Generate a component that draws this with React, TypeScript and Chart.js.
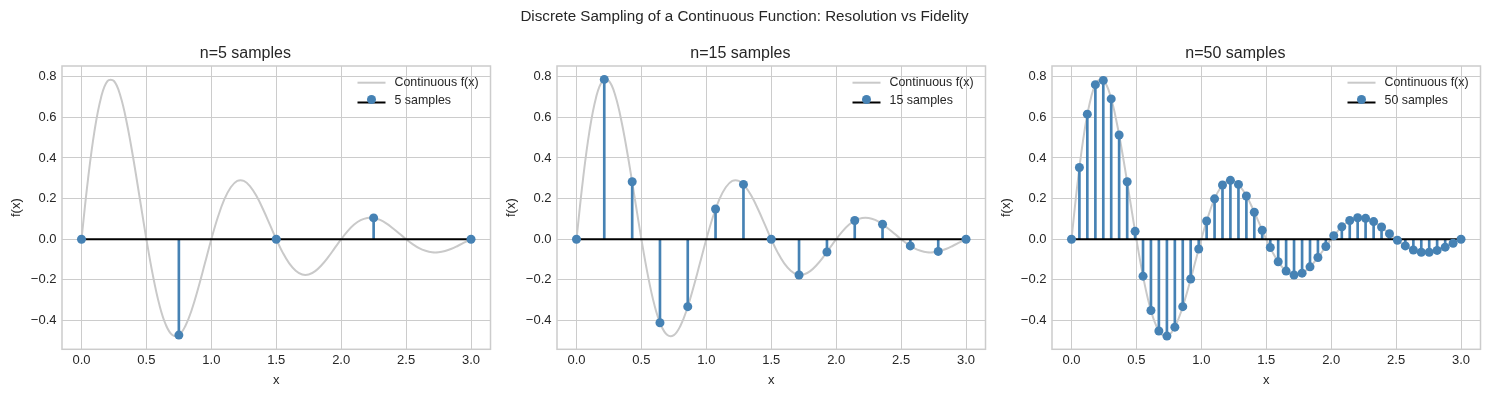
import React, { useEffect, useRef } from "react";
import { Chart, registerables } from "chart.js";
Chart.register(...registerables);

const FONT = '"Liberation Sans", Arial, Helvetica, sans-serif';
const TEXT = "#262626";
const STEEL = "#4682b4";
const CURVE = "#c9c9c9";
const GRID = "#cccccc";

const SUPTITLE = "Discrete Sampling of a Continuous Function: Resolution vs Fidelity";
const PANEL_TITLES = ["n=5 samples", "n=15 samples", "n=50 samples"];
const SAMPLE_LABELS = ["5 samples", "15 samples", "50 samples"];
const CURVE_LABEL = "Continuous f(x)";
const X_TICKS = [0, 0.5, 1, 1.5, 2, 2.5, 3];
const Y_TICKS = [-0.4, -0.2, 0, 0.2, 0.4, 0.6, 0.8];

const curveX = [
  0, 0.05, 0.1, 0.15, 0.2, 0.25, 0.3, 0.35, 0.4, 0.45,
  0.5, 0.55, 0.6, 0.65, 0.7, 0.75, 0.8, 0.85, 0.9, 0.95,
  1.0, 1.05, 1.1, 1.15, 1.2, 1.25, 1.3, 1.35, 1.4, 1.45,
  1.5, 1.55, 1.6, 1.65, 1.7, 1.75, 1.8, 1.85, 1.9, 1.95,
  2.0, 2.05, 2.1, 2.15, 2.2, 2.25, 2.3, 2.35, 2.4, 2.45,
  2.5, 2.55, 2.6, 2.65, 2.7, 2.75, 2.8, 2.85, 2.9, 2.95, 3.0,
];
const curveY = [
  0, 0.294, 0.532, 0.696, 0.779, 0.779, 0.705, 0.57, 0.394, 0.197,
  0, -0.178, -0.323, -0.422, -0.472, -0.472, -0.427, -0.346, -0.239, -0.12,
  0, 0.108, 0.196, 0.256, 0.287, 0.287, 0.259, 0.21, 0.145, 0.073,
  0, -0.066, -0.119, -0.155, -0.174, -0.174, -0.157, -0.127, -0.088, -0.044,
  0, 0.04, 0.072, 0.094, 0.105, 0.105, 0.095, 0.077, 0.053, 0.027,
  0, -0.024, -0.044, -0.057, -0.064, -0.064, -0.058, -0.047, -0.032, -0.016, 0,
];

const s5X = [0, 0.75, 1.5, 2.25, 3.0];
const s5Y = [0, -0.472, 0, 0.105, 0];

const s15X = [0, 0.214, 0.429, 0.643, 0.857, 1.071, 1.286, 1.5, 1.714, 1.929, 2.143, 2.357, 2.571, 2.786, 3.0];
const s15Y = [0, 0.787, 0.283, -0.411, -0.332, 0.149, 0.27, 0, -0.176, -0.063, 0.092, 0.074, -0.033, -0.06, 0];

const s50X = [
  0, 0.061, 0.122, 0.184, 0.245, 0.306, 0.367, 0.429, 0.49, 0.551,
  0.612, 0.673, 0.735, 0.796, 0.857, 0.918, 0.98, 1.041, 1.102, 1.163,
  1.224, 1.286, 1.347, 1.408, 1.469, 1.531, 1.592, 1.653, 1.714, 1.776,
  1.837, 1.898, 1.959, 2.02, 2.082, 2.143, 2.204, 2.265, 2.327, 2.388,
  2.449, 2.51, 2.571, 2.633, 2.694, 2.755, 2.816, 2.878, 2.939, 3.0,
];
const s50Y = [
  0, 0.353, 0.616, 0.761, 0.782, 0.691, 0.513, 0.283, 0.039, -0.182,
  -0.351, -0.452, -0.477, -0.433, -0.332, -0.196, -0.048, 0.09, 0.199, 0.267,
  0.29, 0.27, 0.213, 0.133, 0.044, -0.041, -0.111, -0.157, -0.176, -0.167,
  -0.136, -0.09, -0.036, 0.017, 0.061, 0.092, 0.106, 0.103, 0.087, 0.06,
  0.027, -0.005, -0.033, -0.053, -0.064, -0.064, -0.055, -0.039, -0.02, 0,
];

const SAMPLE_X = [s5X, s15X, s50X];
const SAMPLE_Y = [s5Y, s15Y, s50Y];

const X_MIN = -0.15, X_MAX = 3.15;
const Y_MIN = -0.542, Y_MAX = 0.853;

const CANVAS_W = 495;
const CANVAS_H = 397;
const PANEL_LEFTS = [0, 495.3, 989.7];

const framePlugin = {
  id: "frame",
  beforeDatasetsDraw(chart: any) {
    const { ctx, chartArea } = chart;
    ctx.save();
    ctx.strokeStyle = GRID;
    ctx.lineWidth = 1.5;
    ctx.strokeRect(chartArea.left, chartArea.top, chartArea.right - chartArea.left, chartArea.bottom - chartArea.top);
    ctx.restore();
  },
};

const legendPlugin = {
  id: "stemLegend",
  afterDatasetsDraw(chart: any, _args: any, opts: any) {
    const { ctx, chartArea } = chart;
    const x0 = chartArea.right - 133;
    const y1 = chartArea.top + 16.7;
    const y2 = chartArea.top + 35;
    ctx.save();
    ctx.lineWidth = 2;
    ctx.strokeStyle = CURVE;
    ctx.beginPath();
    ctx.moveTo(x0, y1);
    ctx.lineTo(x0 + 28, y1);
    ctx.stroke();
    ctx.strokeStyle = "#000";
    ctx.beginPath();
    ctx.moveTo(x0, y2 + 1.5);
    ctx.lineTo(x0 + 28, y2 + 1.5);
    ctx.stroke();
    ctx.fillStyle = STEEL;
    ctx.beginPath();
    ctx.arc(x0 + 14, y2 - 1.5, 4.5, 0, Math.PI * 2);
    ctx.fill();
    ctx.fillStyle = TEXT;
    ctx.font = `12.4px ${FONT}`;
    ctx.textBaseline = "middle";
    ctx.textAlign = "left";
    ctx.fillText(opts.curveLabel, x0 + 37, y1);
    ctx.fillText(opts.sampleLabel, x0 + 37, y2);
    ctx.restore();
  },
};

function fmtY(v: number) {
  const s = Math.abs(v).toFixed(1);
  return v < -1e-9 ? "\u2212" + s : s;
}

function Panel({ idx }: { idx: number }) {
  const ref = useRef<HTMLCanvasElement | null>(null);
  useEffect(() => {
    const canvas = ref.current;
    if (!canvas) return;
    const sx = SAMPLE_X[idx];
    const sy = SAMPLE_Y[idx];
    const chart = new Chart(canvas, {
      type: "line",
      data: {
        datasets: [
          {
            type: "line",
            label: SAMPLE_LABELS[idx],
            data: sx.map((x, i) => ({ x, y: sy[i] })),
            showLine: false,
            pointRadius: 4.5,
            pointHoverRadius: 4.5,
            pointBackgroundColor: STEEL,
            pointBorderWidth: 0,
            borderColor: STEEL,
            order: 0,
          },
          {
            type: "line",
            label: "baseline",
            data: [
              { x: sx[0], y: 0 },
              { x: sx[sx.length - 1], y: 0 },
            ],
            borderColor: "#000000",
            borderWidth: 2,
            pointRadius: 0,
            order: 1,
          },
          {
            type: "bar",
            label: "stems",
            data: sx.map((x, i) => ({ x, y: [0, sy[i]] })),
            backgroundColor: STEEL,
            borderWidth: 0,
            barThickness: 2,
            grouped: false,
            order: 2,
          } as any,
          {
            type: "line",
            label: CURVE_LABEL,
            data: curveX.map((x, i) => ({ x, y: curveY[i] })),
            borderColor: CURVE,
            borderWidth: 2,
            pointRadius: 0,
            tension: 0.4,
            order: 3,
          },
        ],
      },
      options: {
        animation: false,
        responsive: false,
        devicePixelRatio: 1,
        layout: { padding: { left: 0, right: CANVAS_W - 62 - 428.7, top: 0, bottom: 0 } },
        plugins: {
          legend: { display: false },
          tooltip: { enabled: false },
          title: {
            display: true,
            text: PANEL_TITLES[idx],
            color: TEXT,
            font: { family: FONT, size: 16, weight: "normal" as any, lineHeight: 1.2 },
            padding: { top: 43.5, bottom: 3.3 },
          },
          stemLegend: { curveLabel: CURVE_LABEL, sampleLabel: SAMPLE_LABELS[idx] },
        } as any,
        scales: {
          x: {
            type: "linear",
            min: X_MIN,
            max: X_MAX,
            offset: false,
            afterBuildTicks: (s: any) => {
              s.ticks = X_TICKS.map((v) => ({ value: v }));
            },
            afterFit: (s: any) => {
              s.height = CANVAS_H - 349.3;
            },
            grid: { color: GRID, lineWidth: 1, drawTicks: false, offset: false },
            border: { display: false },
            ticks: {
              color: TEXT,
              font: { family: FONT, size: 13 },
              padding: 3,
              maxRotation: 0,
              autoSkip: false,
              callback: (v: any) => Number(v).toFixed(1),
            },
            title: {
              display: true,
              text: "x",
              color: TEXT,
              font: { family: FONT, size: 13, lineHeight: 1.2 },
              padding: { top: 9.2, bottom: 9.2 },
            },
          },
          y: {
            type: "linear",
            min: Y_MIN,
            max: Y_MAX,
            afterBuildTicks: (s: any) => {
              s.ticks = Y_TICKS.map((v) => ({ value: v }));
            },
            afterFit: (s: any) => {
              s.width = 62;
            },
            grid: { color: GRID, lineWidth: 1, drawTicks: false },
            border: { display: false },
            ticks: {
              color: TEXT,
              font: { family: FONT, size: 13 },
              padding: 5.5,
              autoSkip: false,
              callback: (v: any) => fmtY(Number(v)),
            },
            title: {
              display: true,
              text: "f(x)",
              color: TEXT,
              font: { family: FONT, size: 13, lineHeight: 1.2 },
              padding: { top: 8.2, bottom: 8.2 },
            },
          },
        },
      },
      plugins: [framePlugin, legendPlugin],
    } as any);
    return () => chart.destroy();
  }, [idx]);
  return (
    <canvas
      ref={ref}
      width={CANVAS_W}
      height={CANVAS_H}
      style={{ position: "absolute", left: PANEL_LEFTS[idx], top: 0, width: CANVAS_W, height: CANVAS_H }}
    />
  );
}

export default function App() {
  useEffect(() => {
    document.body.style.margin = "0";
  }, []);
  return (
    <div style={{ position: "absolute", left: 0, top: 0, width: 1489, height: 397, background: "#ffffff", overflow: "hidden" }}>
      {[0, 1, 2].map((i) => (
        <Panel key={i} idx={i} />
      ))}
      <div
        style={{
          position: "absolute",
          left: 0,
          top: 8,
          width: 1489,
          textAlign: "center",
          fontFamily: FONT,
          fontSize: 15.2,
          lineHeight: "16px",
          color: TEXT,
          whiteSpace: "nowrap",
        }}
      >
        {SUPTITLE}
      </div>
    </div>
  );
}
